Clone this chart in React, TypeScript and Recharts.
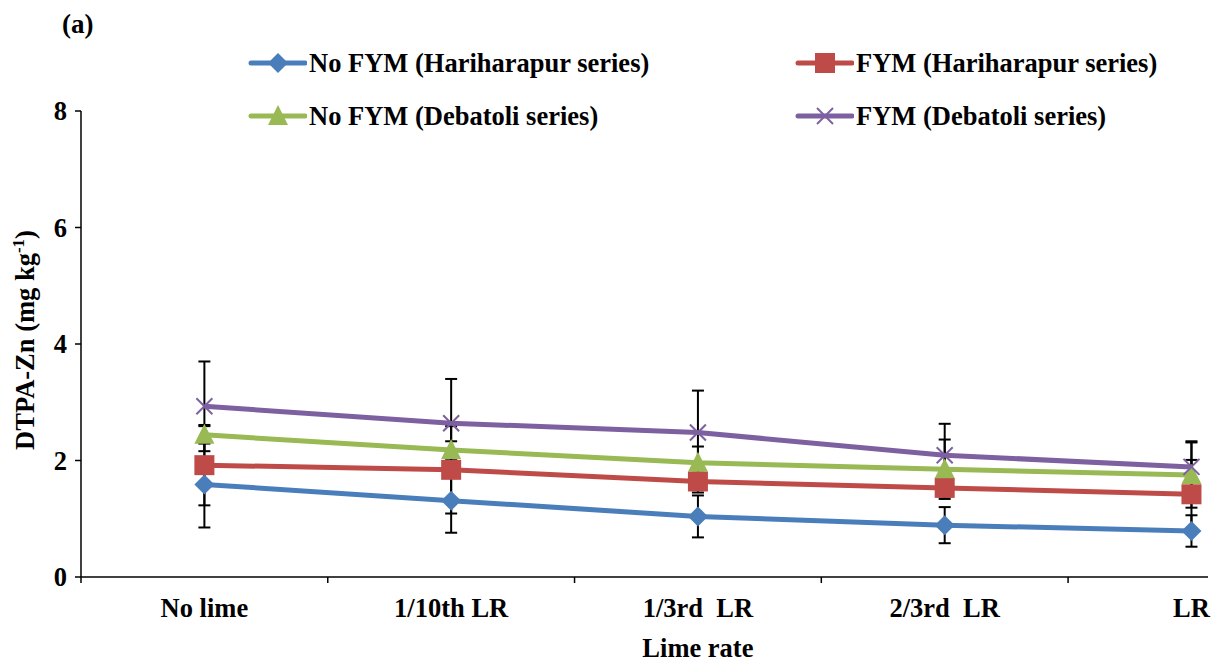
import React from "react";
import { LineChart, Line, XAxis, YAxis, ErrorBar, Legend, Label } from "recharts";

const categories = ["No lime", "1/10th LR", "1/3rd  LR", "2/3rd  LR", "LR"];
const yTicks = [0, 2, 4, 6, 8];

const noFymHari = [1.59, 1.31, 1.04, 0.89, 0.79];
const noFymHariErr = [0.74, 0.55, 0.36, 0.31, 0.27];
const fymHari = [1.92, 1.84, 1.64, 1.53, 1.42];
const fymHariErr = [0.69, 0.75, 0.19, 0.15, 0.59];
const noFymDeb = [2.44, 2.18, 1.96, 1.85, 1.75];
const noFymDebErr = [0.15, 0.15, 0.28, 0.51, 0.56];
const fymDeb = [2.93, 2.64, 2.48, 2.09, 1.89];
const fymDebErr = [0.77, 0.76, 0.72, 0.54, 0.44];

const FONT = '"Liberation Serif", "Times New Roman", serif';
const FS = 26.5;

const data = categories.map((c, i) => ({
  idx: i,
  name: c,
  a: noFymHari[i], aErr: noFymHariErr[i],
  b: fymHari[i], bErr: fymHariErr[i],
  c: noFymDeb[i], cErr: noFymDebErr[i],
  d: fymDeb[i], dErr: fymDebErr[i],
}));

type Shape = "diamond" | "square" | "triangle" | "x";

const series: { key: string; err: string; name: string; color: string; shape: Shape }[] = [
  { key: "a", err: "aErr", name: "No FYM (Hariharapur series)", color: "#4A7EBB", shape: "diamond" },
  { key: "b", err: "bErr", name: "FYM (Hariharapur series)", color: "#BE4B48", shape: "square" },
  { key: "c", err: "cErr", name: "No FYM (Debatoli series)", color: "#98B954", shape: "triangle" },
  { key: "d", err: "dErr", name: "FYM (Debatoli series)", color: "#7D60A0", shape: "x" },
];

function marker(shape: Shape, cx: number, cy: number, color: string, k?: string | number) {
  if (shape === "diamond") {
    const r = 10;
    return <polygon key={k} points={`${cx},${cy - r} ${cx + r},${cy} ${cx},${cy + r} ${cx - r},${cy}`} fill={color} />;
  }
  if (shape === "square") {
    const r = 10;
    return <rect key={k} x={cx - r} y={cy - r} width={2 * r} height={2 * r} fill={color} />;
  }
  if (shape === "triangle") {
    const r = 10;
    return <polygon key={k} points={`${cx},${cy - r - 1} ${cx + r},${cy + r - 1} ${cx - r},${cy + r - 1}`} fill={color} />;
  }
  const r = 8;
  return (
    <g key={k}>
      <line x1={cx - r} y1={cy - r} x2={cx + r} y2={cy + r} stroke={color} strokeWidth={2} />
      <line x1={cx - r} y1={cy + r} x2={cx + r} y2={cy - r} stroke={color} strokeWidth={2} />
    </g>
  );
}

const XTick = (props: any) => {
  const { x, y, payload } = props;
  const v = payload.value as number;
  if (Number.isInteger(v)) {
    return (
      <g>
        <text x={x} y={y + 40} textAnchor="middle" fontFamily={FONT} fontWeight="bold" fontSize={FS} fill="#000" style={{ whiteSpace: "pre" }}>
          {categories[v]}
        </text>
        {v === 2 && (
          <text x={x} y={y + 80} textAnchor="middle" fontFamily={FONT} fontWeight="bold" fontSize={FS} fill="#000">
            Lime rate
          </text>
        )}
      </g>
    );
  }
  return <line x1={x} y1={y} x2={x} y2={y + 6} stroke="#000" strokeWidth={1.5} />;
};

const YTitle = (props: any) => {
  const { viewBox } = props;
  const cx = viewBox.x + 26;
  const cy = viewBox.y + viewBox.height / 2 - 4;
  return (
    <text
      transform={`translate(${cx},${cy}) rotate(-90)`}
      textAnchor="middle"
      fontFamily={FONT}
      fontWeight="bold"
      fontSize={FS}
      fill="#000"
    >
      DTPA-Zn (mg kg<tspan dy={-10} fontSize={17}>-1</tspan>
      <tspan dy={10}>)</tspan>
    </text>
  );
};

const LegendContent = () => {
  const cols = [239, 786];
  const rows = [55, 108];
  return (
    <div style={{ position: "relative", width: 1214, height: 140 }}>
      {series.map((s, i) => (
        <div
          key={s.key}
          style={{
            position: "absolute",
            left: cols[i % 2],
            top: rows[Math.floor(i / 2)] - 16,
            height: 32,
            display: "flex",
            alignItems: "center",
            whiteSpace: "nowrap",
          }}
        >
          <svg width={60} height={32}>
            <line x1={4} y1={16} x2={58} y2={16} stroke={s.color} strokeWidth={5} strokeLinecap="round" />
            {marker(s.shape, 31, 16, s.color)}
          </svg>
          <span style={{ fontFamily: FONT, fontWeight: "bold", fontSize: FS, color: "#000", marginLeft: 2 }}>
            {s.name}
          </span>
        </div>
      ))}
    </div>
  );
};

export default function App() {
  return (
    <div style={{ position: "relative", width: 1214, height: 656, background: "#fff" }}>
      <div
        style={{
          position: "absolute",
          left: 54,
          top: 1,
          fontFamily: FONT,
          fontWeight: "bold",
          fontSize: 27,
          color: "#000",
        }}
      >
        (a)
      </div>
      <LineChart width={1214} height={656} data={data} margin={{ top: 103, right: 14, bottom: 0, left: 0 }}>
        <XAxis
          dataKey="idx"
          type="number"
          domain={[-0.5, 4.067]}
          ticks={[-0.5, 0, 0.5, 1, 1.5, 2, 2.5, 3, 3.5, 4]}
          interval={0}
          allowDataOverflow
          tickLine={false}
          tickSize={0}
          tickMargin={0}
          height={87}
          axisLine={{ stroke: "#000", strokeWidth: 1.5 }}
          tick={<XTick />}
        />
        <YAxis
          type="number"
          domain={[0, 8]}
          ticks={yTicks}
          interval={0}
          width={73}
          tickSize={6}
          tickMargin={8}
          axisLine={{ stroke: "#000", strokeWidth: 1.5 }}
          tickLine={{ stroke: "#000", strokeWidth: 1.5 }}
          tick={{ fontFamily: FONT, fontWeight: "bold", fontSize: FS, fill: "#000" }}
        >
          <Label content={<YTitle />} />
        </YAxis>
        <Legend
          layout="horizontal"
          verticalAlign="middle"
          align="center"
          wrapperStyle={{ top: 0, left: 0, width: 1214, height: 140 }}
          content={<LegendContent />}
        />
        {series.map((s) => (
          <Line
            key={s.key}
            dataKey={s.key}
            name={s.name}
            stroke={s.color}
            strokeWidth={5}
            isAnimationActive={false}
            dot={(p: any) => marker(s.shape, p.cx, p.cy, s.color, `${s.key}-${p.index}`)}
            activeDot={false}
          >
            <ErrorBar dataKey={s.err} direction="y" width={6} stroke="#000" strokeWidth={2} />
          </Line>
        ))}
      </LineChart>
    </div>
  );
}
